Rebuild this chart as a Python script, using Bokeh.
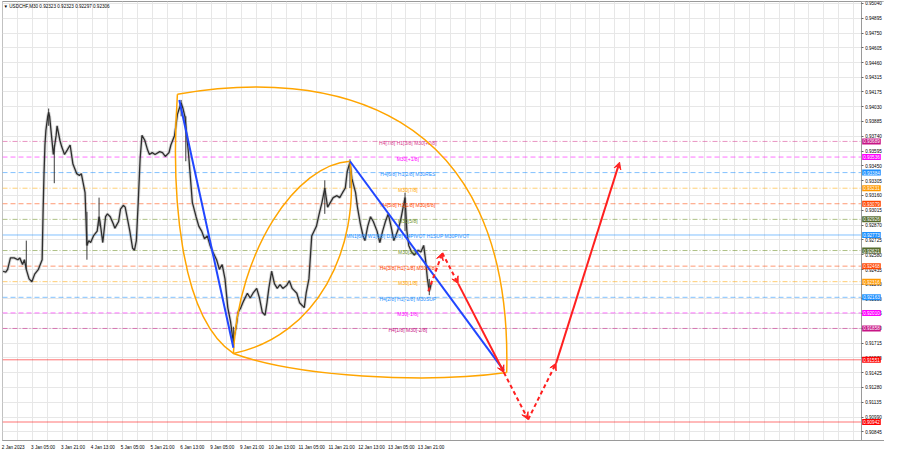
from bokeh.plotting import figure
from bokeh.models import (ColumnDataSource, FixedTicker, Range1d, Label, Arrow,
                          VeeHead)
from bokeh.core.properties import value
from bokeh.embed import file_html
from bokeh.resources import INLINE

FONT = "Liberation Sans"

# ---- price path (M30 bar index, close) ----
bar_idx = [0, 3, 5, 8, 12, 16, 18, 21, 23, 25, 28, 31, 34, 38, 40, 42, 43, 44, 45, 46,
           48, 49, 50, 52, 54, 57, 58, 61, 63, 66, 69, 72, 75, 79, 82, 84, 86, 88, 90, 92,
           94, 97, 101, 103, 104, 107, 110, 112, 115, 118, 120, 124, 126, 129, 131, 133,
           136, 139, 141, 143, 145, 147, 149, 152, 155, 157, 160, 163, 168, 171, 174, 178,
           180, 182, 184, 187, 189, 191, 193, 195, 197, 199, 201, 203, 207, 210, 213, 216,
           219, 222, 225, 229, 232, 235, 238, 241, 244, 246, 247, 250, 252, 255, 258, 262,
           265, 268, 272, 275, 278, 281, 283, 285, 288, 291, 294, 297, 300, 304, 307, 310,
           315, 318, 321, 323, 325, 328, 331, 336, 339, 342, 345, 348, 351, 354, 358, 361,
           364, 367, 369, 372, 374, 378, 380, 383, 386, 388, 391, 394, 397, 401, 404, 407,
           410, 413, 416, 419, 423, 426, 429, 431, 433, 435, 438, 441, 445, 448, 451, 453,
           455, 457, 458, 459, 460]
bar_close = [0.92418, 0.92409, 0.92437, 0.92549, 0.92549, 0.92531, 0.92549, 0.92484, 0.92531,
             0.92437, 0.92343, 0.92315, 0.92390, 0.92437, 0.92484, 0.92531, 0.92999, 0.93374,
             0.93654, 0.93795, 0.93935, 0.93973, 0.93935, 0.93748, 0.93561, 0.93748, 0.93842,
             0.93701, 0.93636, 0.93561, 0.93607, 0.93654, 0.93467, 0.93374, 0.93355, 0.93374,
             0.93280, 0.93187, 0.92671, 0.92718, 0.92699, 0.92764, 0.92811, 0.92952, 0.92905,
             0.92699, 0.92952, 0.92980, 0.92952, 0.92887, 0.92840, 0.92905, 0.93027, 0.93064,
             0.93046, 0.92952, 0.92811, 0.92643, 0.92624, 0.92718, 0.93093, 0.93514, 0.93748,
             0.93701, 0.93607, 0.93561, 0.93579, 0.93561, 0.93589, 0.93579, 0.93542, 0.93579,
             0.93654, 0.93701, 0.93748, 0.93954, 0.94011, 0.94066, 0.94011, 0.93935, 0.93748,
             0.93561, 0.93327, 0.93093, 0.92952, 0.92858, 0.92811, 0.92736, 0.92764, 0.92671,
             0.92606, 0.92531, 0.92437, 0.92484, 0.92343, 0.92062, 0.91922, 0.91782, 0.91735,
             0.91875, 0.92016, 0.92062, 0.92128, 0.92203, 0.92156, 0.92203, 0.92250, 0.92156,
             0.92016, 0.91988, 0.92109, 0.92250, 0.92418, 0.92297, 0.92250, 0.92287, 0.92250,
             0.92278, 0.92325, 0.92250, 0.92203, 0.92109, 0.92081, 0.92062, 0.92203, 0.92343,
             0.92764, 0.92858, 0.92980, 0.93093, 0.93233, 0.93046, 0.93093, 0.93139, 0.93158,
             0.93139, 0.93187, 0.93233, 0.93392, 0.93486, 0.93327, 0.93187, 0.93046, 0.92887,
             0.92764, 0.92718, 0.92858, 0.92952, 0.92905, 0.92811, 0.92699, 0.92811, 0.92905,
             0.92980, 0.92858, 0.92718, 0.92811, 0.92905, 0.93046, 0.93139, 0.92811, 0.92671,
             0.92606, 0.92577, 0.92624, 0.92606, 0.92671, 0.92531, 0.92343, 0.92222, 0.92250,
             0.92297, 0.92306]

spike_idx = [25, 49, 55, 90, 103, 191, 196, 247, 345, 372, 431, 457]
spike_lo = [0.92437, 0.93842, 0.93280, 0.92531, 0.92858, 0.93935, 0.93495, 0.91688,
            0.92980, 0.93233, 0.92811, 0.92184]
spike_hi = [0.92718, 0.94011, 0.93654, 0.93000, 0.93139, 0.94095, 0.93935, 0.91875,
            0.93308, 0.93514, 0.93187, 0.92343]

# ---- Murrey levels ----
level_price = [0.93689, 0.93536, 0.93384, 0.93231, 0.93079, 0.92926, 0.92773, 0.92621,
               0.92468, 0.92316, 0.92163, 0.92010, 0.91858, 0.91551, 0.90942]
level_text = ["H4[7/8] H1[3/8] M30[+2/8]", "M30[+1/8]", "H4[6/8] H1[2/8] M30RES", "M30[7/8]",
              "H4[5/8] H1[1/8] M30[6/8]", "M30[5/8]",
              "MN1[6/8] W1[6/8] D1[6/8] H4PIVOT H1SUP M30PIVOT", "M30[3/8]",
              "H4[3/8] H1[-1/8] M30[2/8]", "M30[1/8]", "H4[2/8] H1[-2/8] M30SUP", "M30[-1/8]",
              "H4[1/8] M30[-2/8]", "", ""]
level_color = ["#d63a8e", "#ff00ff", "#1e90ff", "#ffa500", "#ff4500", "#6b8e23", "#1e90ff",
               "#6b8e23", "#ff4500", "#ffa500", "#1e90ff", "#ff00ff", "#c71585", "#ff0000",
               "#ff0000"]
level_box = ["#c71585", "#ff00ff", "#1e90ff", "#ff9900", "#ff4500", "#556b2f", "#1e90ff",
             "#556b2f", "#ff4500", "#ff9900", "#1e90ff", "#ff00ff", "#c71585", "#ff0000",
             "#ff0000"]
level_dash = ["dashdot", "dashed", "dashed", "dashdot", "dashed", "dashdot", "solid",
              "dashdot", "dashed", "dashdot", "dashed", "dashed", "dashdot", "solid", "solid"]

# ---- axes ----
y_ticks = [0.95040, 0.94895, 0.94750, 0.94605, 0.94460, 0.94315, 0.94175, 0.94030, 0.93885,
           0.93740, 0.93595, 0.93450, 0.93305, 0.93160, 0.93015, 0.92870, 0.92725, 0.92580,
           0.92435, 0.92290, 0.92150, 0.92005, 0.91860, 0.91715, 0.91570, 0.91425, 0.91280,
           0.91135, 0.90990, 0.90845]
y_tick_labels = ["0.95040", "0.94895", "0.94750", "0.94605", "0.94460", "0.94315", "0.94175",
                 "0.94030", "0.93885", "0.93740", "0.93595", "0.93450", "0.93305", "0.93160",
                 "0.93015", "0.92870", "0.92725", "0.92580", "0.92435", "0.92290", "0.92150",
                 "0.92005", "0.91860", "0.91715", "0.91570", "0.91425", "0.91280", "0.91135",
                 "0.90990", "0.90845"]
time_bars = [0, 32, 64, 96, 128, 160, 192, 224, 256, 288, 320, 352, 384, 416, 448]
time_labels = ["2 Jan 2023", "3 Jan 05:00", "3 Jan 21:00", "4 Jan 13:00", "5 Jan 05:00",
               "5 Jan 21:00", "6 Jan 13:00", "9 Jan 05:00", "9 Jan 21:00", "10 Jan 13:00",
               "11 Jan 05:00", "11 Jan 21:00", "12 Jan 13:00", "13 Jan 05:00", "13 Jan 21:00"]
LABEL_SHIFT = 11          # MT4 writes the time label to the right of its bar
grid_ticks = list(range(0, 913, 16))
SCALE_X = 920             # bar position of the price scale
X_END = 945

# ---- drawings ----
arc_x0 = [187, 187, 540, 247, 372]
arc_y0 = [0.94151, 0.94151, 0.91426, 0.91613, 0.93495]
arc_x1 = [247, 540, 247, 372, 247]
arc_y1 = [0.91613, 0.91426, 0.91613, 0.93495, 0.91613]
arc_cx0 = [180, 346, 451, 252, 383]
arc_cy0 = [0.93186, 0.94404, 0.91313, 0.92624, 0.92624]
arc_cx1 = [189, 547, 315, 315, 336]
arc_cy1 = [0.91969, 0.94076, 0.91388, 0.93467, 0.91782]

trend_x0 = [189, 372]
trend_y0 = [0.94095, 0.93495]
trend_x1 = [247, 537]
trend_y1 = [0.91669, 0.91445]

path_idx = [456, 471, 488, 537, 563, 593, 661]
path_price = [0.92222, 0.92596, 0.92297, 0.91426, 0.90967, 0.91519, 0.93486]
path_dashed = [True, True, False, True, True, False]

title_text = "\u25bc USDCHF,M30  0.92323 0.92323 0.92297 0.92306"

Y0, Y1 = 0.90761, 0.95059
p = figure(width=884, height=452, output_backend="svg", toolbar_location=None,
           x_range=Range1d(-0.5, X_END), y_range=Range1d(Y0, Y1),
           y_axis_location="right", min_border_left=2, min_border_top=1,
           min_border_right=0, min_border_bottom=9)
p.background_fill_color = "white"
p.border_fill_color = "white"
p.outline_line_color = "#9a9a9a"
p.outline_line_width = 1

for ax in (p.xaxis[0], p.yaxis[0]):
    ax.axis_line_color = "#9a9a9a"
    ax.major_tick_line_color = "#666666"
    ax.major_tick_out = 2
    ax.major_tick_in = 0
    ax.minor_tick_line_color = None
    ax.major_label_text_font = FONT
    ax.major_label_text_font_size = "4.6px"
    ax.major_label_text_color = "black"
    ax.major_label_standoff = 2

p.yaxis.fixed_location = SCALE_X
p.yaxis.ticker = FixedTicker(ticks=y_ticks)
p.yaxis.major_label_overrides = dict(zip(y_ticks, y_tick_labels))
x_ticks = [b + LABEL_SHIFT for b in time_bars]
p.xaxis.ticker = FixedTicker(ticks=x_ticks)
p.xaxis.major_label_overrides = dict(zip(x_ticks, time_labels))
p.xaxis.major_tick_line_color = None

p.xgrid.ticker = FixedTicker(ticks=grid_ticks)
p.ygrid.ticker = FixedTicker(ticks=y_ticks)
p.grid.grid_line_color = "#e7e7e7"
p.grid.grid_line_width = 1

# price-scale strip (covers the grid to the right of the scale)
p.quad(left=[SCALE_X], right=[X_END], bottom=[Y0], top=[Y1], fill_color="white",
       line_color=None)

dash_map = {"dashed": "5 3", "dashdot": "5 2 1 2", "solid": "solid"}
for pr, col, dsh in zip(level_price, level_color, level_dash):
    p.segment(x0=[-0.5], y0=[pr], x1=[SCALE_X], y1=[pr], line_color=col, line_alpha=0.55,
              line_width=1, line_dash=dash_map[dsh])

# price
p.line(bar_idx, bar_close, line_color="#8a8a8a", line_width=3.2, line_alpha=0.35)
p.segment(x0=spike_idx, y0=spike_lo, x1=spike_idx, y1=spike_hi, line_color="#3a3a3a",
          line_width=1)
p.line(bar_idx, bar_close, line_color="#2e2e2e", line_width=1.3)

# level texts
lab_src = ColumnDataSource(dict(x=[434] * len(level_price), y=level_price, t=level_text,
                                c=level_color))
p.text(x="x", y="y", text="t", text_color="c", source=lab_src, text_align="center",
       text_baseline="middle", y_offset=1.5, text_font=value(FONT), text_font_size="5px")

# orange arcs
p.bezier(x0=arc_x0, y0=arc_y0, x1=arc_x1, y1=arc_y1, cx0=arc_cx0, cy0=arc_cy0,
         cx1=arc_cx1, cy1=arc_cy1, line_color="#ffa500", line_width=1.5)

# blue trend lines
p.segment(x0=trend_x0, y0=trend_y0, x1=trend_x1, y1=trend_y1, line_color="#2146ff",
          line_width=2)

# red projection path
dsh = dict(x0=[], y0=[], x1=[], y1=[])
sol = dict(x0=[], y0=[], x1=[], y1=[])
for i, d in enumerate(path_dashed):
    tgt = dsh if d else sol
    tgt["x0"].append(path_idx[i]); tgt["y0"].append(path_price[i])
    tgt["x1"].append(path_idx[i + 1]); tgt["y1"].append(path_price[i + 1])
for data, dash in ((dsh, "4 3"), (sol, "solid")):
    p.add_layout(Arrow(source=ColumnDataSource(data), x_start="x0", y_start="y0",
                       x_end="x1", y_end="y1", line_color="#ff2020", line_width=2,
                       line_dash=dash,
                       end=VeeHead(size=7, line_color="#ff2020", fill_color="#ff2020",
                                   line_width=1)))

# price boxes on the scale
for pr, bc in zip(level_price, level_box):
    p.add_layout(Label(x=SCALE_X, y=pr, x_offset=1, text=f"{pr:.5f}", text_color="white",
                       text_font=FONT, text_font_size="4.6px", text_baseline="middle",
                       text_align="left", background_fill_color=bc, padding=1))

p.add_layout(Label(x=0.5, y=0.95010, text=title_text, text_font=FONT,
                   text_font_size="4.6px", text_baseline="middle", text_color="black"))

open("out.html", "w").write(file_html(p, INLINE))
